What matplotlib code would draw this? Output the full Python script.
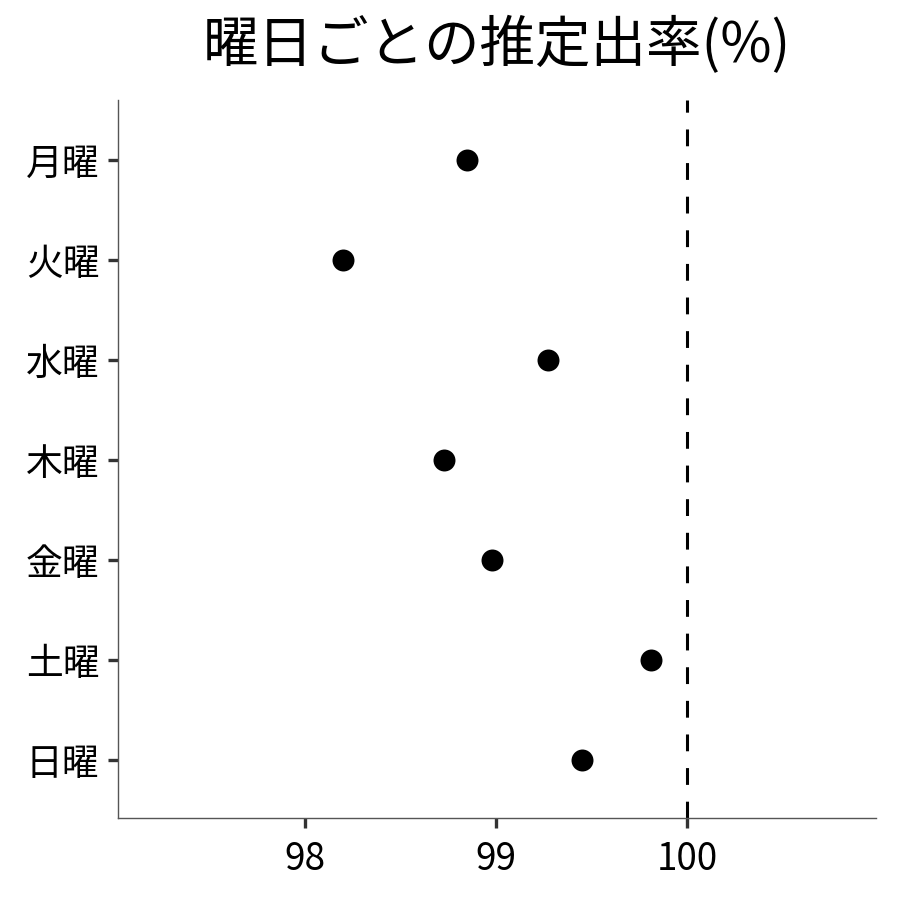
import matplotlib
matplotlib.use("Agg")
import matplotlib.pyplot as plt

plt.rcParams['font.family'] = ['Noto Sans CJK JP', 'DejaVu Sans']

# 曜日ごとの推定出率
days = ["月曜", "火曜", "水曜", "木曜", "金曜", "土曜", "日曜"]
rates = [98.85, 98.20, 99.27, 98.73, 98.98, 99.81, 99.45]
ref_value = 100
x_ticks = [98, 99, 100]

fig = plt.figure(figsize=(9, 9), dpi=100)
ax = fig.add_axes([118 / 900, 82 / 900, (876 - 118) / 900, (818 - 100) / 900])

ypos = list(range(len(days)))
ax.scatter(rates, ypos, s=250, color="black", zorder=3, linewidths=0)
ax.axvline(ref_value, color="black", lw=2.2, dashes=(5.5, 5.5), zorder=2)

ax.set_yticks(ypos)
ax.set_yticklabels(days)
ax.set_ylim(len(days) - 1 + 0.58, -0.6)
ax.set_xticks(x_ticks)
ax.set_xlim(97.02, 100.99)

for side in ["top", "right"]:
    ax.spines[side].set_visible(False)
for side in ["left", "bottom"]:
    ax.spines[side].set_color("#555555")
    ax.spines[side].set_linewidth(1.0)

ax.tick_params(axis="both", length=7.5, width=2.4, color="#333333",
               labelsize=26.5, labelcolor="black")
ax.tick_params(axis="y", pad=6)
ax.tick_params(axis="x", pad=8)

fig.text(497 / 900, 1 - 46 / 900, "曜日ごとの推定出率(%)", ha="center",
         va="center", fontsize=40)

fig.savefig("out.png", dpi=100)
